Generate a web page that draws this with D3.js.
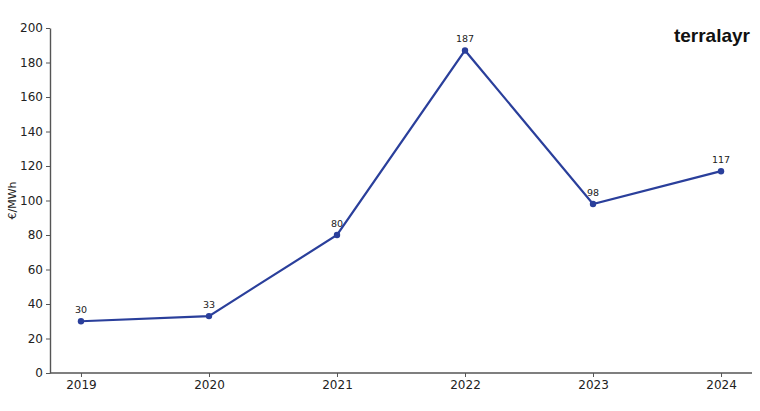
<!DOCTYPE html>
<html><head><meta charset="utf-8">
<script src="https://cdn.jsdelivr.net/npm/d3@7"></script>
<style>body{margin:0;background:#fff;} svg{display:block;}</style>
</head><body>
<script>
const years = ["2019","2020","2021","2022","2023","2024"];
const prices = [30, 33, 80, 187, 98, 117];
const yTicks = [0,20,40,60,80,100,120,140,160,180,200];
const yLabel = "€/MWh";
const brand = "terralayr";

const W = 760, H = 411;
const m = {left: 50, right: 8, top: 28, bottom: 38};
const svg = d3.select("body").append("svg").attr("width", W).attr("height", H);

const x = d3.scalePoint().domain(years).range([m.left, W - m.right]).padding(0.242);
const y = d3.scaleLinear().domain([0, 200]).range([H - m.bottom, m.top]);

const axisColor = "#555";
const font = "DejaVu Sans, sans-serif";

const gx = svg.append("g").attr("transform", `translate(0,${H - m.bottom})`)
  .call(d3.axisBottom(x).tickSize(4).tickPadding(3).tickSizeOuter(0));
const gy = svg.append("g").attr("transform", `translate(${m.left},0)`)
  .call(d3.axisLeft(y).tickValues(yTicks).tickSize(4).tickPadding(3).tickSizeOuter(0));
[gx, gy].forEach(g => {
  g.select(".domain").attr("stroke", axisColor).attr("stroke-width", 1.4);
  g.selectAll(".tick line").attr("stroke", axisColor).attr("stroke-width", 1);
  g.selectAll(".tick text").attr("fill", "#222").style("font-family", font).style("font-size", "12px");
});
gx.select(".domain").attr("d", `M${m.left},0H${W - m.right}`);

svg.append("text")
  .attr("transform", `translate(16,${(m.top + H - m.bottom) / 2}) rotate(-90)`)
  .attr("text-anchor", "middle")
  .style("font-family", font).style("font-size", "11px").attr("fill", "#222")
  .text(yLabel);

const data = years.map((yr, i) => ({yr, v: prices[i]}));
const lineColor = "#2a3f9b";
svg.append("path").datum(data)
  .attr("fill", "none").attr("stroke", lineColor).attr("stroke-width", 2.2)
  .attr("d", d3.line().x(d => x(d.yr)).y(d => y(d.v)));
svg.selectAll("circle.pt").data(data).join("circle")
  .attr("cx", d => x(d.yr)).attr("cy", d => y(d.v)).attr("r", 3.2).attr("fill", lineColor);
svg.selectAll("text.lbl").data(data).join("text")
  .attr("x", d => x(d.yr)).attr("y", d => y(d.v) - 8)
  .attr("text-anchor", "middle")
  .style("font-family", font).style("font-size", "9.5px").attr("fill", "#222")
  .text(d => d.v);

svg.append("text").attr("x", 750).attr("y", 42).attr("text-anchor", "end")
  .style("font-family", "Liberation Sans, Arial, sans-serif").style("font-weight", "bold")
  .style("font-size", "19px").attr("fill", "#111").text(brand);
</script>
</body></html>
